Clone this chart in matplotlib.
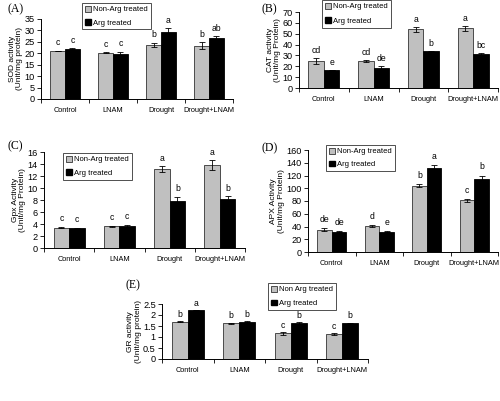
import matplotlib
matplotlib.use("Agg")
import matplotlib.pyplot as plt
import numpy as np
from matplotlib.patches import Patch

plt.rcParams['font.family'] = ['Liberation Sans', 'DejaVu Sans']

categories = ["Control", "LNAM", "Drought", "Drought+LNAM"]

# Panel A: SOD
sod_non = [21.0, 20.3, 23.7, 23.3]
sod_arg = [22.0, 19.5, 29.5, 26.5]
sod_non_err = [0.2, 0.3, 1.0, 1.5]
sod_arg_err = [0.3, 1.2, 1.5, 1.0]
sod_non_let = ["c", "c", "b", "b"]
sod_arg_let = ["c", "c", "a", "ab"]

# Panel B: CAT
cat_non = [25.0, 25.0, 54.0, 55.0]
cat_arg = [16.5, 18.5, 34.0, 31.0]
cat_non_err = [2.5, 1.0, 2.0, 2.5]
cat_arg_err = [0.2, 2.0, 0.5, 1.0]
cat_non_let = ["cd", "cd", "a", "a"]
cat_arg_let = ["e", "de", "b", "bc"]

# Panel C: Gpx
gpx_non = [3.4, 3.6, 13.1, 13.8]
gpx_arg = [3.3, 3.6, 7.8, 8.2]
gpx_non_err = [0.1, 0.15, 0.5, 0.8]
gpx_arg_err = [0.1, 0.2, 0.7, 0.4]
gpx_non_let = ["c", "c", "a", "a"]
gpx_arg_let = ["c", "c", "b", "b"]

# Panel D: APX
apx_non = [35.0, 41.0, 104.0, 81.0]
apx_arg = [32.0, 32.0, 132.0, 115.0]
apx_non_err = [2.0, 1.0, 2.0, 2.0]
apx_arg_err = [1.0, 1.0, 4.0, 5.0]
apx_non_let = ["de", "d", "b", "c"]
apx_arg_let = ["de", "e", "a", "b"]

# Panel E: GR
gr_non = [1.69, 1.63, 1.17, 1.14]
gr_arg = [2.22, 1.70, 1.63, 1.63]
gr_non_err = [0.03, 0.02, 0.06, 0.04]
gr_arg_err = [0.01, 0.01, 0.04, 0.02]
gr_non_let = ["b", "b", "c", "c"]
gr_arg_let = ["a", "b", "b", "b"]

W, H = 500, 401
fig = plt.figure(figsize=(W / 100, H / 100), dpi=100)

GRAY = "#c0c0c0"
FS = 5.3


def make_axes(l, r, t, b):
    return fig.add_axes([l / W, (H - b) / H, (r - l) / W, (b - t) / H])


def panel(box, non, arg, non_err, arg_err, non_let, arg_let, ymax, ystep,
          ylabel, label, label_xy, leg_box, leg_names, yfmt):
    ax = make_axes(*box)
    x = np.arange(len(categories))
    bw = 0.31
    ax.bar(x - bw / 2, non, bw, color=GRAY, edgecolor="#333333", linewidth=0.6,
           yerr=non_err, error_kw=dict(ecolor="black", elinewidth=0.6, capsize=2, capthick=0.6))
    ax.bar(x + bw / 2, arg, bw, color="black", edgecolor="black", linewidth=0.6,
           yerr=arg_err, error_kw=dict(ecolor="black", elinewidth=0.6, capsize=2, capthick=0.6))
    off = ymax * 0.04
    for i in range(len(categories)):
        ax.text(x[i] - bw / 2, non[i] + non_err[i] + off, non_let[i], ha="center", va="bottom", fontsize=6.2)
        ax.text(x[i] + bw / 2, arg[i] + arg_err[i] + off, arg_let[i], ha="center", va="bottom", fontsize=6.2)
    ax.set_xlim(-0.5, len(categories) - 0.5)
    ax.set_ylim(0, ymax)
    ticks = np.arange(0, ymax + ystep / 2, ystep)
    ax.set_yticks(ticks)
    ax.set_yticklabels([yfmt(v) for v in ticks], fontsize=6.6)
    ax.set_xticks(x)
    ax.set_xticklabels(categories, fontsize=FS)
    ax.tick_params(axis="x", length=0, pad=6)
    ax.set_xticks(np.arange(-0.5, len(categories), 1.0), minor=True)
    ax.tick_params(axis="x", which="minor", length=3, width=0.6, direction="out")
    ax.tick_params(axis="y", length=3, width=0.6, direction="out", pad=1.5)
    for s in ["top", "right"]:
        ax.spines[s].set_visible(False)
    for s in ["left", "bottom"]:
        ax.spines[s].set_linewidth(0.7)
    ax.set_ylabel(ylabel, fontsize=6.0, labelpad=1, linespacing=1.1)
    fig.text(label_xy[0] / W, (H - label_xy[1]) / H, label, family="Liberation Serif",
             fontsize=8.5, ha="left", va="center")
    l, r, t, b = leg_box
    handles = [Patch(facecolor=GRAY, edgecolor="#333333", linewidth=0.6, label=leg_names[0]),
               Patch(facecolor="black", edgecolor="black", label=leg_names[1])]
    fig.legend(handles=handles, loc="upper left", bbox_to_anchor=(l / W, (H - t) / H),
               fontsize=FS + 0.2, frameon=True, fancybox=False, edgecolor="black",
               handlelength=0.8, handleheight=0.8, handletextpad=0.3, borderpad=0.35,
               labelspacing=(b - t) / 30.0, borderaxespad=0.0).get_frame().set_linewidth(0.6)
    return ax


fint = lambda v: f"{int(round(v))}"
fnum = lambda v: (f"{v:g}")

panel((41, 233, 19, 99), sod_non, sod_arg, sod_non_err, sod_arg_err, sod_non_let, sod_arg_let,
      35, 5, "SOD activity\n(Unit/mg protein)", "(A)", (8, 9), (82, 149, 3, 26),
      ["Non-Arg treated", "Arg treated"], fint)
panel((299, 498, 12, 88), cat_non, cat_arg, cat_non_err, cat_arg_err, cat_non_let, cat_arg_let,
      70, 10, "CAT activity\n(Unit/mg Protein)", "(B)", (262, 9), (322, 384, 0, 28),
      ["Non-Arg treated", "Arg treated"], fint)
panel((44, 245, 152, 248), gpx_non, gpx_arg, gpx_non_err, gpx_arg_err, gpx_non_let, gpx_arg_let,
      16, 2, "Gpx Activity\n(Unit/mg Protein)", "(C)", (8, 146), (63, 131, 153, 177),
      ["Non-Arg treated", "Arg treated"], fint)
panel((308, 498, 150, 252), apx_non, apx_arg, apx_non_err, apx_arg_err, apx_non_let, apx_arg_let,
      160, 20, "APX Activity\n(Unit/mg Protein)", "(D)", (262, 148), (326, 391, 145, 166),
      ["Non-Arg treated", "Arg treated"], fint)
panel((162, 368, 304, 359), gr_non, gr_arg, gr_non_err, gr_arg_err, gr_non_let, gr_arg_let,
      2.5, 0.5, "GR activity\n(Unit/mg protein)", "(E)", (125, 285), (268, 334, 283, 308),
      ["Non Arg treated", "Arg treated"], fnum)

fig.savefig("out.png", dpi=100)
